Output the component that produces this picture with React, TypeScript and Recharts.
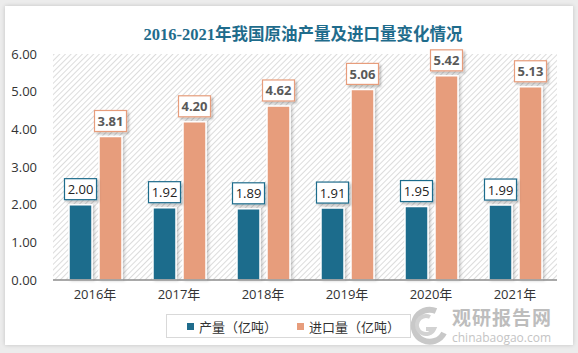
import { BarChart, Bar, XAxis, YAxis, ReferenceArea } from "recharts";

const years = ["2016年", "2017年", "2018年", "2019年", "2020年", "2021年"];
const output = [2.0, 1.92, 1.89, 1.91, 1.95, 1.99];
const imports = [3.81, 4.2, 4.62, 5.06, 5.42, 5.13];
const yTicks = [0, 1, 2, 3, 4, 5, 6];

const BLUE = "#1f6c8c";
const ORANGE = "#e79d7c";

const data = years.map((year, i) => ({
  year,
  output: output[i],
  imports: imports[i],
}));

function makeLabel(color: string, bold: boolean) {
  return (props: any) => {
    const { x, y, width, value } = props;
    const cx = x + width / 2;
    const w = 32;
    const h = 21;
    const top = y - 5 - h;
    return (
      <g>
        <rect
          x={cx - w / 2}
          y={top}
          width={w}
          height={h}
          fill="#fff"
          stroke={color}
          strokeWidth={1.2}
          filter="url(#lblShadow)"
        />
        <text
          x={cx}
          y={top + h / 2 + 5}
          textAnchor="middle"
          fontSize={13}
          fontWeight={bold ? 700 : 400}
          fill={bold ? "#595959" : "#222"}
        >
          {Number(value).toFixed(2)}
        </text>
      </g>
    );
  };
}

export default function App() {
  return (
    <div
      style={{
        position: "absolute",
        left: 0,
        top: 0,
        width: 578,
        height: 353,
        background: "#ececec",
        fontFamily: "'Open Sans', 'Noto Sans CJK SC', sans-serif",
      }}
    >
      <svg width={0} height={0} style={{ position: "absolute" }}>
        <defs>
          <pattern id="hatch" width={4} height={4} patternUnits="userSpaceOnUse" patternTransform="rotate(45)">
            <rect width={4} height={4} fill="#fff" />
            <line x1={0} y1={0} x2={0} y2={4} stroke="#d4d4d4" strokeWidth={1.6} />
          </pattern>
          <filter id="lblShadow" x="-30%" y="-30%" width="170%" height="170%">
            <feDropShadow dx={2} dy={2} stdDeviation={1.2} floodColor="#000" floodOpacity={0.25} />
          </filter>
          <filter id="barShadow" x="-30%" y="-10%" width="170%" height="130%">
            <feDropShadow dx={2} dy={0} stdDeviation={1.5} floodColor="#000" floodOpacity={0.2} />
          </filter>
        </defs>
      </svg>
      <div
        style={{
          position: "absolute",
          left: 5,
          top: 6,
          width: 568,
          height: 339,
          background: "#fff",
          boxShadow: "0 0 4px rgba(0,0,0,0.18)",
        }}
      />
      <div
        style={{
          position: "absolute",
          left: 0,
          top: 21,
          width: 606,
          textAlign: "center",
          fontSize: 16.5,
          fontWeight: 700,
          color: "#1f6c8c",
          fontFamily: "'Liberation Serif', 'Noto Sans CJK SC', serif",
        }}
      >
        2016-2021年我国原油产量及进口量变化情况
      </div>
      <div style={{ position: "absolute", left: 0, top: 0 }}>
        <BarChart
          width={578}
          height={353}
          data={data}
          margin={{ top: 54, right: 21, bottom: 43, left: 0 }}
          barSize={23}
          barGap={7}
        >
          <ReferenceArea x1="2016年" x2="2021年" y1={0} y2={6} fill="url(#hatch)" fillOpacity={1} stroke="none" ifOverflow="extendDomain" />
          <XAxis
            dataKey="year"
            height={30}
            tickSize={0}
            tickMargin={10}
            axisLine={{ stroke: "#8c8c8c", strokeWidth: 1.5 }}
            tick={{ fontSize: 13, fill: "#333" }}
          />
          <YAxis
            domain={[0, 6]}
            ticks={yTicks}
            width={53}
            tickSize={0}
            tickMargin={16}
            axisLine={false}
            tickFormatter={(v: number) => v.toFixed(2)}
            tick={{ fontSize: 13, fill: "#333" }}
          />
          <Bar
            dataKey="output"
            fill={BLUE}
            stroke="#fff"
            strokeWidth={1.5}
            filter="url(#barShadow)"
            isAnimationActive={false}
            label={makeLabel(BLUE, false)}
          />
          <Bar
            dataKey="imports"
            fill={ORANGE}
            stroke="#fff"
            strokeWidth={1.5}
            filter="url(#barShadow)"
            isAnimationActive={false}
            label={makeLabel(ORANGE, true)}
          />
        </BarChart>
      </div>
      <div
        style={{
          position: "absolute",
          left: 166,
          top: 314,
          width: 245,
          height: 24,
          border: "1px solid #d9d9d9",
          boxSizing: "border-box",
          fontSize: 13,
          color: "#333",
          display: "flex",
          alignItems: "center",
        }}
      >
        <span style={{ width: 7, height: 7, background: BLUE, marginLeft: 20, marginRight: 5 }} />
        <span>产量（亿吨）</span>
        <span style={{ width: 7, height: 7, background: ORANGE, marginLeft: 20, marginRight: 5 }} />
        <span>进口量（亿吨）</span>
      </div>
      <svg style={{ position: "absolute", left: 400, top: 304 }} width={50} height={42}>
        <path d="M 36 7 A 16 16 0 1 0 44 29" fill="none" stroke="#c8c8c8" strokeWidth={6} />
        <path d="M 30 13 A 9 9 0 1 0 34 25 L 26 25" fill="none" stroke="#d2d2d2" strokeWidth={4} />
      </svg>
      <div
        style={{
          position: "absolute",
          left: 452,
          top: 307,
          fontSize: 19,
          lineHeight: "20px",
          fontWeight: 700,
          color: "#bdbdbd",
          letterSpacing: 1,
          fontFamily: "'Noto Sans CJK SC', sans-serif",
          whiteSpace: "nowrap",
        }}
      >
        观研报告网
      </div>
      <div
        style={{
          position: "absolute",
          left: 452,
          top: 331,
          fontSize: 12,
          lineHeight: "13px",
          color: "#c4c4c4",
          whiteSpace: "nowrap",
        }}
      >
        chinabaogao.com
      </div>
    </div>
  );
}
